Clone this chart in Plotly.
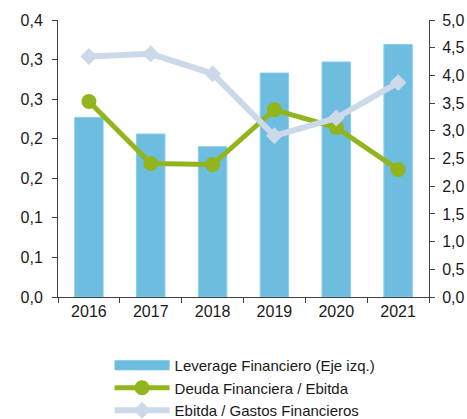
import plotly.graph_objects as go

years = ["2016", "2017", "2018", "2019", "2020", "2021"]
leverage = [0.227, 0.206, 0.190, 0.283, 0.297, 0.319]
deuda_ebitda = [3.53, 2.41, 2.39, 3.38, 3.06, 2.30]
ebitda_gastos = [4.34, 4.39, 4.03, 2.91, 3.23, 3.87]

left_vals = [0, 0.05, 0.1, 0.15, 0.2, 0.25, 0.3, 0.35]
left_text = ["0,0", "0,1", "0,1", "0,2", "0,2", "0,3", "0,3", "0,4"]
right_vals = [0, 0.5, 1, 1.5, 2, 2.5, 3, 3.5, 4, 4.5, 5]
right_text = ["0,0", "0,5", "1,0", "1,5", "2,0", "2,5", "3,0", "3,5", "4,0", "4,5", "5,0"]

bar_color = "#6CBDE0"
green = "#92B41C"
light = "#CBD9E8"
axcol = "#404040"

fig = go.Figure()
fig.add_trace(go.Bar(x=years, y=leverage, name="Leverage Financiero (Eje izq.)",
                     marker=dict(color=bar_color, line=dict(color="#8DCDE8", width=1)),
                     width=0.46, yaxis="y", showlegend=False))
# legend entry for the bars (wide rectangle key)
fig.add_trace(go.Scatter(x=[None], y=[None], name="Leverage Financiero (Eje izq.)",
                         mode="lines", line=dict(color=bar_color, width=12),
                         yaxis="y"))
fig.add_trace(go.Scatter(x=years, y=deuda_ebitda, name="Deuda Financiera / Ebitda",
                         mode="lines+markers", yaxis="y2",
                         line=dict(color=green, width=5),
                         marker=dict(color=green, size=15, symbol="circle")))
fig.add_trace(go.Scatter(x=years, y=ebitda_gastos, name="Ebitda / Gastos Financieros",
                         mode="lines+markers", yaxis="y2",
                         line=dict(color=light, width=6),
                         marker=dict(color=light, size=13, symbol="diamond")))

fig.update_layout(
    width=467, height=419,
    margin=dict(l=58, r=38, t=20, b=122, autoexpand=False),
    plot_bgcolor="white", paper_bgcolor="white",
    font=dict(family="Liberation Sans, Arial, sans-serif", size=16, color="#1a1a1a"),
    showlegend=True,
    legend=dict(orientation="v", x=0.139, xanchor="left",
                yref="container", y=1 - 349 / 419, yanchor="top",
                font=dict(size=15), itemwidth=55, tracegroupgap=0,
                traceorder="normal", bgcolor="rgba(0,0,0,0)"),
    xaxis=dict(type="category", showline=True, linecolor=axcol, linewidth=1,
               ticks="outside", tickson="boundaries", ticklen=5, tickcolor=axcol,
               showgrid=False),
    yaxis=dict(range=[0, 0.35], tickvals=left_vals, ticktext=left_text,
               showline=True, linecolor=axcol, linewidth=1, ticks="outside",
               ticklen=5, tickcolor=axcol, showgrid=False, zeroline=False,
               ticklabelstandoff=6),
    yaxis2=dict(range=[0, 5], tickvals=right_vals, ticktext=right_text, overlaying="y",
                side="right", showline=True, linecolor=axcol, linewidth=1,
                ticks="outside", ticklen=5, tickcolor=axcol, showgrid=False,
                zeroline=False, ticklabelstandoff=4),
)
fig.write_html("out.html")
